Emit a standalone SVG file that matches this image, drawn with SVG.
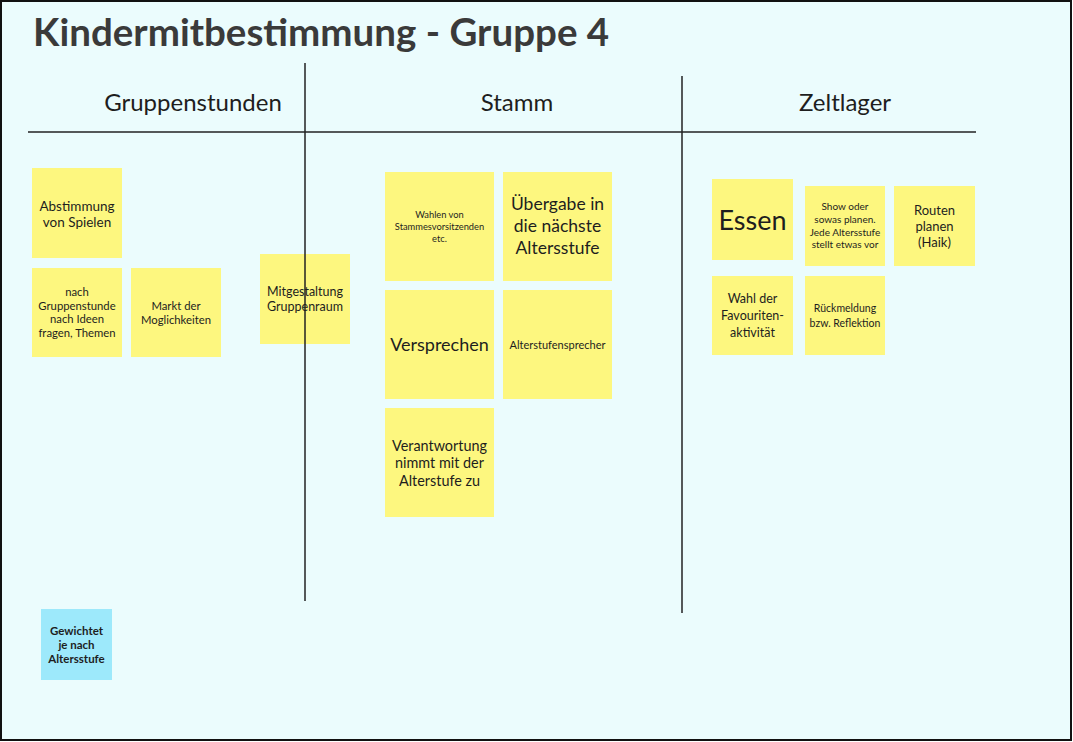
<svg xmlns="http://www.w3.org/2000/svg" width="1073" height="742" viewBox="0 0 1073 742">
<style>
.note{fill:#fdf77f}
.cyan{fill:#9de9fb}
.t{font-family:Lato,"Liberation Sans",sans-serif;fill:#1e1e1e;text-anchor:middle}
.hd{font-family:Lato,"Liberation Sans",sans-serif;fill:#1e1e1e;text-anchor:middle;font-size:24px}
.ln{stroke:#222;stroke-width:1.5;fill:none}
</style>
<rect x="1" y="1" width="1070" height="739" fill="#ebfcfd" stroke="#111" stroke-width="2"/>
<text x="33" y="46" font-family="Lato,'Liberation Sans',sans-serif" font-size="38.5" font-weight="bold" fill="#3a3a3a">Kindermitbestimmung - Gruppe 4</text>
<g id="headers">
<text class="hd" x="193" y="111">Gruppenstunden</text>
<text class="hd" x="517" y="111">Stamm</text>
<text class="hd" x="845" y="111">Zeltlager</text>
</g>
<g id="n1"><rect class="note" x="32" y="168" width="90" height="90"/><text class="t" font-size="13.5"><tspan x="77" y="211">Abstimmung</tspan><tspan x="77" y="227">von Spielen</tspan></text></g>
<g id="n2"><rect class="note" x="32" y="268" width="90" height="89"/><text class="t" font-size="11.3"><tspan x="77" y="296">nach</tspan><tspan x="77" y="310">Gruppenstunde</tspan><tspan x="77" y="323">nach Ideen</tspan><tspan x="77" y="337">fragen, Themen</tspan></text></g>
<g id="n3"><rect class="note" x="131" y="268" width="90" height="89"/><text class="t" font-size="11.3"><tspan x="176" y="310">Markt der</tspan><tspan x="176" y="324">Moglichkeiten</tspan></text></g>
<g id="n4"><rect class="note" x="260" y="254" width="90" height="90"/><text class="t" font-size="12.5"><tspan x="305" y="296">Mitgestaltung</tspan><tspan x="305" y="311">Gruppenraum</tspan></text></g>
<g id="n5"><rect class="note" x="385" y="172" width="109" height="109"/><text class="t" font-size="9.3"><tspan x="439.5" y="218">Wahlen von</tspan><tspan x="439.5" y="230">Stammesvorsitzenden</tspan><tspan x="439.5" y="242">etc.</tspan></text></g>
<g id="n6"><rect class="note" x="503" y="172" width="109" height="109"/><text class="t" font-size="17.5"><tspan x="557.5" y="210">Übergabe in</tspan><tspan x="557.5" y="232">die nächste</tspan><tspan x="557.5" y="254">Altersstufe</tspan></text></g>
<g id="n7"><rect class="note" x="385" y="290" width="109" height="109"/><text class="t" font-size="18" x="439.5" y="351">Versprechen</text></g>
<g id="n8"><rect class="note" x="503" y="290" width="109" height="109"/><text class="t" font-size="11" x="557.5" y="349">Alterstufensprecher</text></g>
<g id="n9"><rect class="note" x="385" y="408" width="109" height="109"/><text class="t" font-size="14.4"><tspan x="439.5" y="451">Verantwortung</tspan><tspan x="439.5" y="468">nimmt mit der</tspan><tspan x="439.5" y="486">Alterstufe zu</tspan></text></g>
<g id="n10"><rect class="note" x="712" y="179" width="81" height="81"/><text class="t" font-size="27" x="752.5" y="230">Essen</text></g>
<g id="n11"><rect class="note" x="805" y="186" width="80" height="80"/><text class="t" font-size="10"><tspan x="845" y="210">Show oder</tspan><tspan x="845" y="223">sowas planen.</tspan><tspan x="845" y="236">Jede Altersstufe</tspan><tspan x="845" y="248">stellt etwas vor</tspan></text></g>
<g id="n12"><rect class="note" x="894" y="186" width="81" height="80"/><text class="t" font-size="13"><tspan x="934.5" y="215">Routen</tspan><tspan x="934.5" y="231">planen</tspan><tspan x="934.5" y="247">(Haik)</tspan></text></g>
<g id="n13"><rect class="note" x="712" y="276" width="81" height="79"/><text class="t" font-size="12.5"><tspan x="752.5" y="303">Wahl der</tspan><tspan x="752.5" y="320">Favouriten-</tspan><tspan x="752.5" y="337">aktivität</tspan></text></g>
<g id="n14"><rect class="note" x="805" y="276" width="80" height="79"/><text class="t" font-size="10.5"><tspan x="845" y="312">Rückmeldung</tspan><tspan x="845" y="327">bzw. Reflektion</tspan></text></g>
<g id="n15"><rect class="cyan" x="41" y="609" width="71" height="71"/><text class="t" font-size="11.5" font-weight="bold"><tspan x="76.5" y="635">Gewichtet</tspan><tspan x="76.5" y="649">je nach</tspan><tspan x="76.5" y="663">Altersstufe</tspan></text></g>
<g id="lines">
<line class="ln" x1="28" y1="132" x2="976" y2="132"/>
<line class="ln" x1="305" y1="63" x2="305" y2="601"/>
<line class="ln" x1="682" y1="76" x2="682" y2="613"/>
</g>
</svg>
